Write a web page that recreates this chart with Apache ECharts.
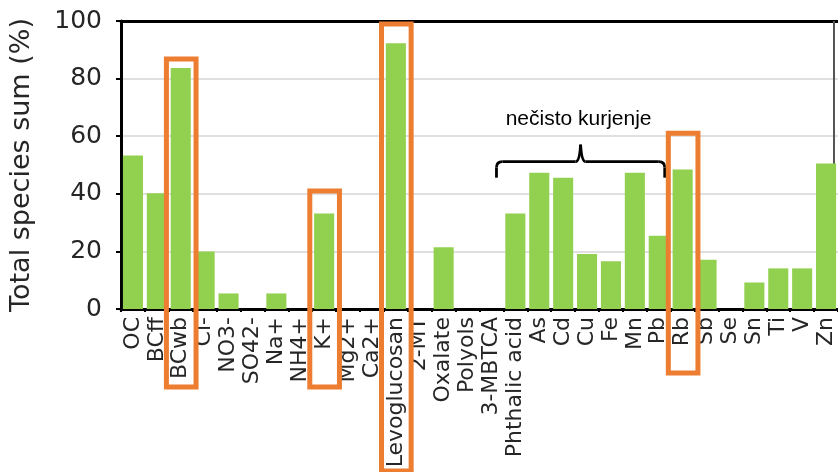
<!DOCTYPE html>
<html>
<head>
<meta charset="utf-8">
<script src="https://cdn.jsdelivr.net/npm/echarts@6/dist/echarts.min.js"></script>
<style>
  html, body { margin: 0; padding: 0; background: #ffffff; }
  #chart { width: 838px; height: 472px; }
</style>
</head>
<body>
<div id="chart"></div>
<script>
// Species measured in the aerosol samples
const categories = [
  'OC', 'BCff', 'BCwb', 'Cl-', 'NO3-', 'SO42-', 'Na+', 'NH4+', 'K+', 'Mg2+',
  'Ca2+', 'Levoglucosan', '2-MT', 'Oxalate', 'Polyols', '3-MBTCA', 'Phthalic acid',
  'As', 'Cd', 'Cu', 'Fe', 'Mn', 'Pb', 'Rb', 'Sb', 'Se', 'Sn', 'Ti', 'V', 'Zn'
];

// Total species sum (%) per species
const totals = [
  53.3, 40.2, 83.7, 20.0, 5.4, 0, 5.4, 0, 33.2, 0,
  0, 92.3, 0, 21.4, 0, 0, 33.2,
  47.3, 45.6, 19.1, 16.6, 47.3, 25.4, 48.4, 17.1, 0, 9.2, 14.1, 14.1, 50.5
];

const yTicks = [0, 20, 40, 60, 80, 100];

// Highlighted species (orange frames) and the bracketed group
const highlighted = ['BCwb', 'K+', 'Levoglucosan', 'Rb'];
const braceFrom = 'Phthalic acid';
const braceTo = 'Pb';
const braceLabel = 'nečisto kurjenje';

const chart = echarts.init(document.getElementById('chart'), null, { renderer: 'canvas' });

const labelFont = 'DejaVu Sans';
const textColor = '#262626';

const option = {
  animation: false,
  backgroundColor: '#ffffff',
  grid: { left: 120, right: 0, top: 21, bottom: 163 },
  xAxis: [{
    type: 'category',
    data: categories,
    boundaryGap: true,
    axisLine: { show: true, lineStyle: { color: '#000000', width: 3 } },
    axisTick: { show: true, length: 3, lineStyle: { color: '#000000', width: 2 } },
    axisLabel: {
      interval: 0, rotate: 90, margin: 8,
      fontFamily: labelFont, fontSize: 22, color: textColor
    }
  }, {
    type: 'category',
    data: categories,
    position: 'top',
    axisLine: { show: true, lineStyle: { color: '#000000', width: 3 } },
    axisTick: { show: false },
    axisLabel: { show: false }
  }],
  yAxis: {
    type: 'value',
    min: yTicks[0],
    max: yTicks[yTicks.length - 1],
    interval: yTicks[1] - yTicks[0],
    name: 'Total species sum (%)',
    nameLocation: 'middle',
    nameGap: 86,
    nameRotate: 90,
    nameTextStyle: { fontFamily: labelFont, fontSize: 27, color: textColor },
    axisLine: { show: true, lineStyle: { color: '#000000', width: 3 } },
    axisTick: { show: true, length: 5, lineStyle: { color: '#000000', width: 2 } },
    axisLabel: { fontFamily: labelFont, fontSize: 25, color: textColor, margin: 19 },
    splitLine: { show: true, lineStyle: { color: '#d6d6d6', width: 1.5 } }
  },
  series: [{
    type: 'bar',
    data: totals,
    barWidth: '84%',
    itemStyle: { color: '#92D050' },
    z: 2
  }]
};

chart.setOption(option);

// Annotation overlay positioned from the chart's own axes
const px = (cat, val) => chart.convertToPixel({ xAxisIndex: 0, yAxisIndex: 0 }, [cat, val]);
const band = px(categories[1], 0)[0] - px(categories[0], 0)[0];
const axisY = px(categories[0], 0)[1];
const orange = '#ED7D31';

// frame tops (in axis units) and how far each frame reaches below the axis
const frameTop = { 'BCwb': 86.8, 'K+': 41, 'Levoglucosan': 99, 'Rb': 61 };
const frameDrop = { 'BCwb': 78, 'K+': 78, 'Levoglucosan': 162, 'Rb': 64 };

const graphics = [];

// right-hand border of the plot frame
const topRight = px(categories[categories.length - 1], 100);
graphics.push({
  type: 'line', z: 1,
  shape: { x1: topRight[0] + band / 2 - 4, y1: topRight[1], x2: topRight[0] + band / 2 - 4, y2: axisY },
  style: { stroke: '#555555', lineWidth: 2 }
});

highlighted.forEach(name => {
  const c = px(name, frameTop[name]);
  const left = c[0] - band * 0.6;
  const right = c[0] + band * 0.64;
  graphics.push({
    type: 'rect', z: 100,
    shape: { x: left, y: c[1], width: right - left, height: axisY + frameDrop[name] - c[1] },
    style: { fill: 'none', stroke: orange, lineWidth: 5 }
  });
});

// curly brace over the group, built from straight runs and curved joints
const pL = px(braceFrom, 45.6);
const pR = px(braceTo, 45.6);
const xL = pL[0] - band * 0.79;
const xR = pR[0] + band * 0.25;
const yEnd = pL[1];
const yH = px(braceFrom, 51.2)[1];
const yPeak = px(braceFrom, 57.1)[1];
const xM = (xL + xR) / 2;
const braceStyle = { fill: 'none', stroke: '#000000', lineWidth: 2.8 };
const seg = (x1, y1, x2, y2) => ({ type: 'line', z: 90, shape: { x1, y1, x2, y2 }, style: braceStyle });
const curve = (x1, y1, cpx1, cpy1, x2, y2) => ({
  type: 'bezierCurve', z: 90, shape: { x1, y1, cpx1, cpy1, x2, y2 }, style: braceStyle
});
graphics.push(
  seg(xL, yEnd, xL, yH + 6),
  curve(xL, yH + 6, xL, yH, xL + 6, yH),
  seg(xL + 6, yH, xM - 5, yH),
  curve(xM - 5, yH, xM - 1, yH, xM, yPeak),
  curve(xM, yPeak, xM + 1, yH, xM + 5, yH),
  seg(xM + 5, yH, xR - 6, yH),
  curve(xR - 6, yH, xR, yH, xR, yH + 6),
  seg(xR, yH + 6, xR, yEnd)
);
graphics.push({
  type: 'text', z: 90,
  x: xM - 2,
  y: px(braceFrom, 62.4)[1],
  style: {
    text: braceLabel,
    font: '21px "Liberation Sans", Arial, sans-serif',
    fill: '#000000',
    align: 'center',
    verticalAlign: 'bottom'
  }
});

chart.setOption({ graphic: graphics });
</script>
</body>
</html>
